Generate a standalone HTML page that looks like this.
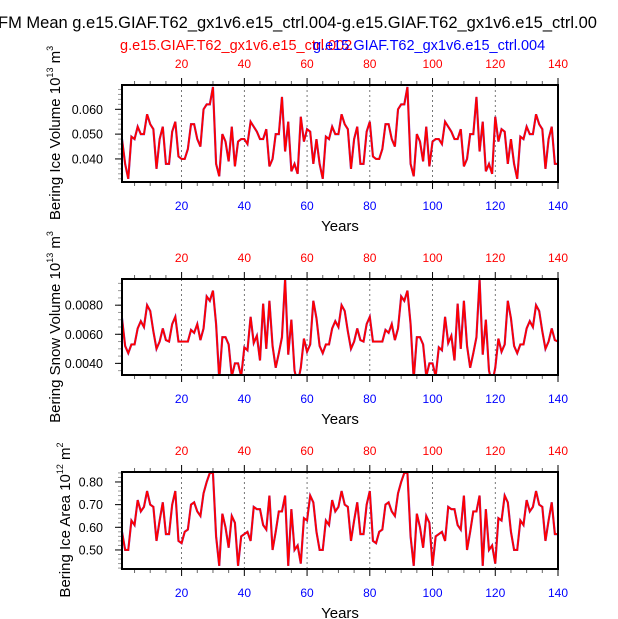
<!DOCTYPE html>
<html><head><meta charset="utf-8"><style>
body{margin:0;background:#fff;}
svg{display:block;font-family:"Liberation Sans",Arial,sans-serif;}
</style></head><body>
<svg id="c" width="618" height="619" viewBox="0 0 618 619">
<text x="-2" y="28" font-size="16.5" fill="#000">FM Mean g.e15.GIAF.T62_gx1v6.e15_ctrl.004-g.e15.GIAF.T62_gx1v6.e15_ctrl.00</text>
<text x="120" y="50" font-size="14.5" fill="#f00">g.e15.GIAF.T62_gx1v6.e15_ctrl.002</text>
<text x="313" y="50" font-size="14.5" fill="#00f">g.e15.GIAF.T62_gx1v6.e15_ctrl.004</text>
</svg>
<script>
const years = Array.from({length:140},(_,i)=>i+1);
const xTicks = [20,40,60,80,100,120,140];
const iceVolBase = [0.048,0.038,0.032,0.049,0.048,0.053,0.050,0.050,0.058,0.054,0.052,0.036,0.048,0.053,0.038,0.038,0.051,0.055,0.041,0.040,0.040,0.044,0.054,0.054,0.048,0.045,0.060,0.062,0.062,0.069,0.038,0.033,0.050,0.047,0.039,0.053,0.037,0.047,0.048,0.048,0.046,0.055,0.053,0.051,0.048,0.048,0.052,0.037,0.040,0.050,0.050,0.065,0.043,0.055,0.035,0.038,0.034,0.057,0.047,0.052,0.051,0.038];
const snowVolBase = [0.0071,0.0052,0.0047,0.0053,0.0053,0.0064,0.0069,0.0065,0.0080,0.0076,0.0062,0.0050,0.0055,0.0064,0.0056,0.0055,0.0067,0.0072,0.0055,0.0055,0.0055,0.0055,0.0063,0.0061,0.0067,0.0056,0.0064,0.0086,0.0083,0.0090,0.0067,0.0029,0.0058,0.0058,0.0053,0.0031,0.0040,0.0040,0.0031,0.0051,0.0049,0.0072,0.0054,0.0059,0.0042,0.0081,0.0050,0.0083,0.0052,0.0037,0.0047,0.0058,0.0098,0.0046,0.0070,0.0035,0.0026,0.0037,0.0057,0.0048,0.0053,0.0083];
const iceAreaBase = [0.58,0.50,0.50,0.63,0.61,0.72,0.67,0.69,0.76,0.70,0.69,0.54,0.63,0.71,0.57,0.57,0.70,0.76,0.54,0.53,0.58,0.59,0.70,0.71,0.67,0.65,0.75,0.80,0.84,0.84,0.56,0.43,0.66,0.60,0.51,0.65,0.62,0.43,0.56,0.57,0.58,0.54,0.69,0.68,0.68,0.61,0.59,0.74,0.50,0.58,0.67,0.67,0.74,0.43,0.68,0.50,0.52,0.44,0.64,0.63,0.74,0.71];
const iceVol = iceVolBase.concat(iceVolBase, iceVolBase.slice(0,16));
const snowVol = snowVolBase.concat(snowVolBase, snowVolBase.slice(0,16));
const iceArea = iceAreaBase.concat(iceAreaBase, iceAreaBase.slice(0,16));
const iceVolTicks = [0.040,0.050,0.060];
const snowVolTicks = [0.0040,0.0060,0.0080];
const iceAreaTicks = [0.50,0.60,0.70,0.80];

const NS="http://www.w3.org/2000/svg";
const svg=document.getElementById('c');
function mk(tag,attrs,parent){const e=document.createElementNS(NS,tag);for(const k in attrs)e.setAttribute(k,attrs[k]);(parent||svg).appendChild(e);return e;}
const X0=122,X1=558;
const xs=yr=>X0+(yr-1)*(X1-X0)/139;

const panels=[
 {name:'ice-volume',top:85,bot:182,ymin:0.0307,ymax:0.0698,data:iceVol,ticks:iceVolTicks,dec:3,minor:0.002,title:'Bering Ice Volume 10',sup:'13',unit:' m',usup:'3',tx:60,ty:133},
 {name:'snow-volume',top:279,bot:375,ymin:0.0032,ymax:0.0098,data:snowVol,ticks:snowVolTicks,dec:4,minor:0.0005,title:'Bering Snow Volume 10',sup:'13',unit:' m',usup:'3',tx:60,ty:327},
 {name:'ice-area',top:472,bot:569,ymin:0.416,ymax:0.844,data:iceArea,ticks:iceAreaTicks,dec:2,minor:0.02,title:'Bering Ice Area 10',sup:'12',unit:' m',usup:'2',tx:70,ty:520}
];
panels.forEach(p=>{
 const g=mk('g',{});
 
 
 const ys=v=>p.bot-(v-p.ymin)/(p.ymax-p.ymin)*(p.bot-p.top);
 xTicks.slice(0,6).forEach(t=>{
  const l=mk('line',{x1:xs(t),x2:xs(t),y1:p.top,y2:p.bot,stroke:'#555','stroke-width':0.8,'stroke-dasharray':'2,3'},g);
  
  
 });
 for(let t=5;t<=140;t+=5){
  const maj=t%20===0;const L=maj?7:4;
  mk('line',{x1:xs(t),x2:xs(t),y1:p.top,y2:p.top-L,stroke:maj?'#000':'#666','stroke-width':1},g);
  mk('line',{x1:xs(t),x2:xs(t),y1:p.bot,y2:p.bot+L,stroke:maj?'#000':'#666','stroke-width':1},g);
 }
 xTicks.forEach(t=>{
  const a=mk('text',{x:xs(t),y:p.top-17,'font-size':12,'text-anchor':'middle',fill:'#f00'},g);a.textContent=t;
  
  
  const b=mk('text',{x:xs(t),y:p.bot+28,'font-size':12,'text-anchor':'middle',fill:'#00f'},g);b.textContent=t;
  
  
 });
 const yt=mk('text',{x:(X0+X1)/2,y:p.bot+49,'font-size':15,'text-anchor':'middle',fill:'#000'},g);yt.textContent='Years';
 
 
 for(let v=Math.ceil(p.ymin/p.minor)*p.minor;v<=p.ymax;v+=p.minor){
  mk('line',{x1:X0,x2:X0-4,y1:ys(v),y2:ys(v),stroke:'#999','stroke-width':1},g);
 }
 p.ticks.forEach(v=>{
  mk('line',{x1:X0,x2:X0-7,y1:ys(v),y2:ys(v),stroke:'#000','stroke-width':1},g);
  const t=mk('text',{x:X0-19,y:ys(v)+4.5,'font-size':12.5,'text-anchor':'end',fill:'#000'},g);t.textContent=v.toFixed(p.dec);
  
  
 });
 const tt=mk('text',{x:0,y:0,'font-size':15,'text-anchor':'middle',fill:'#000',transform:`translate(${p.tx},${p.ty}) rotate(-90)`},g);
 tt.innerHTML=`${p.title}<tspan font-size="9" dy="-7">${p.sup}</tspan><tspan dy="7">${p.unit}</tspan><tspan font-size="9" dy="-7">${p.usup}</tspan>`;
 
 
 const d=p.data.map((v,i)=>(i?'L':'M')+xs(years[i]).toFixed(2)+','+ys(v).toFixed(2)).join('');
 const cp=mk('clipPath',{id:'cp'+p.name},g);mk('rect',{x:X0,y:p.top,width:X1-X0,height:p.bot-p.top},cp);
 const bl=mk('path',{d:d,fill:'none',stroke:'#6040e0','stroke-width':2.2,'clip-path':`url(#cp${p.name})`},g);
 
 
 const rl=mk('path',{d:d,fill:'none',stroke:'#f00','stroke-width':1.8,'clip-path':`url(#cp${p.name})`},g);
 
 
 const fr=mk('rect',{x:X0,y:p.top,width:X1-X0,height:p.bot-p.top,fill:'none',stroke:'#000','stroke-width':2},g);
 
 
});
</script>
</body></html>
